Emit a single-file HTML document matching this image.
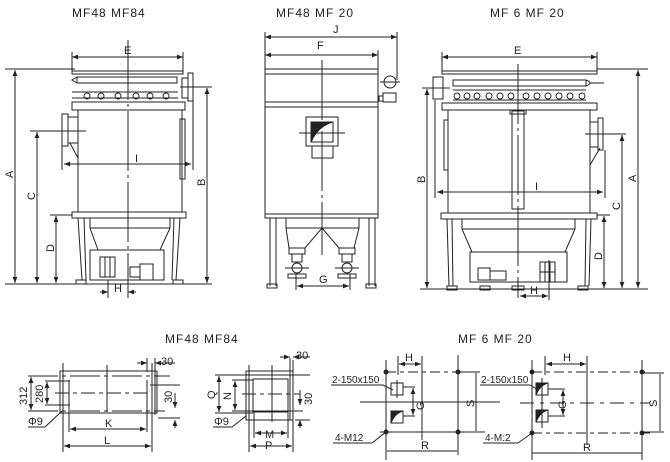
<!DOCTYPE html>
<html><head><meta charset="utf-8"><style>body{margin:0;background:#fff}svg{display:block}text{font-family:"Liberation Sans",sans-serif;fill:#222}</style></head><body>
<svg width="670" height="462" viewBox="0 0 670 462" xmlns="http://www.w3.org/2000/svg">
<defs><marker id="a" viewBox="0 0 10 10" refX="10" refY="5" markerWidth="6" markerHeight="6" orient="auto-start-reverse"><path d="M0,1 L10,5 L0,9z" fill="#222"/></marker></defs>
<g stroke="#222" stroke-width="1" fill="none">
<!-- titles -->
</g>
<text x="72" y="17" font-size="12" letter-spacing="1">MF48  MF84</text>
<text x="276" y="17" font-size="12" letter-spacing="1">MF48  MF  20</text>
<text x="490" y="17" font-size="12" letter-spacing="1">MF 6 MF 20</text>
<text x="165" y="343" font-size="12" letter-spacing="1">MF48  MF84</text>
<text x="458" y="343" font-size="12" letter-spacing="1">MF 6 MF 20</text>

<!-- LEFT DRAWING -->
<g stroke="#222" stroke-width="1" fill="none">
<line x1="72" y1="57" x2="183" y2="57" marker-start="url(#a)" marker-end="url(#a)"/>
<line x1="72" y1="52" x2="72" y2="72"/><line x1="183" y1="52" x2="183" y2="72"/>
<rect x="72" y="71" width="111" height="3"/>
<line x1="5" y1="69" x2="75" y2="69"/>
<rect x="77" y="77" width="100" height="6"/>
<path d="M77,77 l-5,3 l5,3"/>
<line x1="72" y1="92" x2="178" y2="92"/>
<g><circle cx="87" cy="96" r="3"/><circle cx="101" cy="96" r="3"/><circle cx="118" cy="96" r="3"/><circle cx="136" cy="96" r="3"/><circle cx="150" cy="96" r="3"/><circle cx="166" cy="96" r="3"/></g>
<line x1="72" y1="98" x2="178" y2="98"/>
<rect x="182" y="78" width="6" height="20"/><rect x="188" y="73" width="5" height="28"/>
<line x1="180" y1="87" x2="212" y2="87"/>
<rect x="72" y="102" width="113" height="8"/>
<rect x="78" y="110" width="104" height="102"/>
<rect x="68" y="117" width="10" height="26"/><rect x="62" y="114" width="6" height="32"/>
<line x1="70" y1="143" x2="78" y2="158"/>
<line x1="30" y1="131" x2="86" y2="131"/>
<rect x="180" y="119" width="5" height="60"/>
<line x1="62" y1="146" x2="62" y2="170"/><line x1="193" y1="101" x2="193" y2="170"/>
<line x1="64" y1="164" x2="191" y2="164" marker-start="url(#a)" marker-end="url(#a)"/>
<rect x="72" y="212" width="114" height="6"/>
<line x1="50" y1="215" x2="72" y2="215"/>
<line x1="78" y1="218" x2="82" y2="280"/><line x1="84" y1="218" x2="86" y2="280"/>
<line x1="180" y1="218" x2="176" y2="280"/><line x1="174" y1="218" x2="172" y2="280"/>
<line x1="90" y1="218" x2="90" y2="228"/><line x1="170" y1="218" x2="170" y2="228"/>
<line x1="90" y1="228" x2="170" y2="228"/>
<path d="M90,228 L98,250 L160,250 L170,228"/>
<rect x="90" y="250" width="74" height="30"/>
<rect x="100" y="257" width="15" height="20"/><line x1="105" y1="257" x2="105" y2="277"/><line x1="110" y1="257" x2="110" y2="277"/>
<rect x="130" y="267" width="10" height="10"/><rect x="140" y="264" width="13" height="16"/>
<rect x="76" y="280" width="10" height="4"/><rect x="173" y="280" width="10" height="4"/>
<line x1="5" y1="284" x2="212" y2="284"/>
<line x1="128" y1="40" x2="128" y2="298" stroke-dasharray="60,4,3,4"/>
<line x1="15" y1="70" x2="15" y2="283" marker-start="url(#a)" marker-end="url(#a)"/>
<line x1="37" y1="132" x2="37" y2="283" marker-start="url(#a)" marker-end="url(#a)"/>
<line x1="56" y1="216" x2="56" y2="283" marker-start="url(#a)" marker-end="url(#a)"/>
<line x1="207" y1="88" x2="207" y2="283" marker-start="url(#a)" marker-end="url(#a)"/>
<line x1="108" y1="280" x2="108" y2="298"/><line x1="128" y1="280" x2="128" y2="298"/>
<line x1="100" y1="292" x2="108" y2="292" marker-end="url(#a)"/><line x1="136" y1="292" x2="128" y2="292" marker-end="url(#a)"/>
</g>
<text x="124" y="54" font-size="11">E</text>
<text x="135" y="162" font-size="11">I</text>
<text x="114" y="292" font-size="11">H</text>
<text font-size="11" transform="translate(13,178) rotate(-90)">A</text>
<text font-size="11" transform="translate(35,200) rotate(-90)">C</text>
<text font-size="11" transform="translate(54,252) rotate(-90)">D</text>
<text font-size="11" transform="translate(205,186) rotate(-90)">B</text>

<!-- MIDDLE DRAWING -->
<g stroke="#222" stroke-width="1" fill="none">
<line x1="265" y1="37" x2="397" y2="37" marker-start="url(#a)" marker-end="url(#a)"/>
<line x1="265" y1="55" x2="378" y2="55" marker-start="url(#a)" marker-end="url(#a)"/>
<line x1="265" y1="32" x2="265" y2="70"/><line x1="397" y1="32" x2="397" y2="80"/><line x1="378" y1="50" x2="378" y2="70"/>
<rect x="265" y="69" width="113" height="149"/>
<line x1="265" y1="74" x2="378" y2="74"/>
<line x1="265" y1="102" x2="378" y2="102"/><line x1="265" y1="107" x2="378" y2="107"/>
<line x1="265" y1="214" x2="378" y2="214"/>
<circle cx="390" cy="82" r="6"/><line x1="380" y1="82" x2="400" y2="82"/>
<rect x="383" y="93" width="13" height="9"/><rect x="379" y="96" width="4" height="5"/>
<rect x="306" y="117" width="32" height="29"/><rect x="311" y="122" width="22" height="20"/>
<path d="M311,122 L333,122 Q318,126 311,142Z" fill="#222"/>
<line x1="299" y1="133" x2="345" y2="133"/>
<rect x="312" y="146" width="21" height="12"/>
<line x1="322" y1="60" x2="322" y2="255" stroke-dasharray="60,4,3,4"/>
<line x1="270" y1="218" x2="270" y2="286"/><line x1="276" y1="218" x2="276" y2="286"/>
<line x1="375" y1="218" x2="375" y2="286"/><line x1="369" y1="218" x2="369" y2="286"/>
<path d="M286,218 L286,228 L359,228 L359,218"/>
<path d="M286,228 L289,248 L305,248 L322,228 L339,248 L354,248 L359,228"/>
<rect x="289" y="248" width="16" height="6"/><rect x="339" y="248" width="16" height="6"/>
<rect x="292" y="254" width="10" height="8"/><rect x="342" y="254" width="10" height="8"/>
<circle cx="297" cy="268" r="5"/><circle cx="347" cy="268" r="5"/>
<line x1="285" y1="268" x2="309" y2="268"/><line x1="335" y1="268" x2="359" y2="268"/>
<rect x="288" y="274" width="18" height="4"/><rect x="338" y="274" width="18" height="4"/>
<rect x="267" y="284" width="10" height="4"/><rect x="366" y="284" width="10" height="4"/>
<line x1="296" y1="274" x2="296" y2="290"/><line x1="350" y1="274" x2="350" y2="290"/>
<line x1="297" y1="286" x2="349" y2="286" marker-start="url(#a)" marker-end="url(#a)"/>
</g>
<text x="317" y="49" font-size="11">F</text>
<text x="333" y="33" font-size="11">J</text>
<text x="319" y="283" font-size="11">G</text>

<!-- RIGHT DRAWING -->
<g stroke="#222" stroke-width="1" fill="none">
<line x1="442" y1="57" x2="597" y2="57" marker-start="url(#a)" marker-end="url(#a)"/>
<line x1="442" y1="52" x2="442" y2="72"/><line x1="597" y1="52" x2="597" y2="72"/>
<rect x="442" y="71" width="155" height="3"/>
<line x1="597" y1="69" x2="648" y2="69"/>
<rect x="453" y="80" width="133" height="6"/><path d="M586,80 q8,3 0,6"/><line x1="590" y1="83" x2="604" y2="83"/>
<rect x="433" y="77" width="10" height="22"/>
<line x1="422" y1="88" x2="450" y2="88"/>
<line x1="453" y1="90" x2="586" y2="90"/><line x1="453" y1="100" x2="586" y2="100"/>
<g><circle cx="457" cy="96" r="3"/><circle cx="467" cy="96" r="3"/><circle cx="477" cy="96" r="3"/><circle cx="489" cy="96" r="3"/><circle cx="500" cy="96" r="3"/><circle cx="511" cy="96" r="3"/><circle cx="526" cy="96" r="3"/><circle cx="537" cy="96" r="3"/><circle cx="548" cy="96" r="3"/><circle cx="559" cy="96" r="3"/><circle cx="570" cy="96" r="3"/><circle cx="582" cy="96" r="3"/></g>
<rect x="442" y="103" width="155" height="7"/>
<rect x="448" y="110" width="142" height="103"/>
<rect x="444" y="120" width="4" height="50"/>
<rect x="512" y="111" width="12" height="98"/><rect x="510" y="110" width="16" height="4"/>
<rect x="590" y="122" width="8" height="25"/><rect x="598" y="118" width="5" height="32"/>
<line x1="600" y1="148" x2="590" y2="165"/>
<line x1="585" y1="134" x2="626" y2="134"/>
<line x1="435" y1="100" x2="435" y2="198"/><line x1="605" y1="150" x2="605" y2="198"/>
<line x1="437" y1="192" x2="603" y2="192" marker-start="url(#a)" marker-end="url(#a)"/>
<rect x="441" y="213" width="156" height="6"/>
<line x1="597" y1="215" x2="610" y2="215"/>
<line x1="447" y1="219" x2="449" y2="286"/><line x1="452" y1="219" x2="453" y2="286"/>
<line x1="591" y1="219" x2="589" y2="286"/><line x1="586" y1="219" x2="585" y2="286"/>
<line x1="462" y1="219" x2="462" y2="229"/><line x1="575" y1="219" x2="575" y2="229"/>
<line x1="462" y1="229" x2="575" y2="229"/>
<path d="M462,229 L472,252 L565,252 L575,229"/>
<rect x="470" y="252" width="97" height="30"/>
<rect x="478" y="268" width="12" height="12"/><rect x="490" y="271" width="16" height="9"/>
<rect x="540" y="262" width="15" height="20"/><line x1="545" y1="262" x2="545" y2="282"/><line x1="550" y1="262" x2="550" y2="282"/><line x1="540" y1="272" x2="555" y2="272"/>
<rect x="447" y="286" width="10" height="4"/><rect x="480" y="286" width="10" height="4"/><rect x="512" y="286" width="12" height="4"/><rect x="578" y="286" width="10" height="4"/>
<line x1="420" y1="289" x2="648" y2="289"/>
<line x1="518" y1="64" x2="518" y2="298" stroke-dasharray="60,4,3,4"/>
<line x1="427" y1="89" x2="427" y2="288" marker-start="url(#a)" marker-end="url(#a)"/>
<line x1="638" y1="70" x2="638" y2="288" marker-start="url(#a)" marker-end="url(#a)"/>
<line x1="622" y1="135" x2="622" y2="288" marker-start="url(#a)" marker-end="url(#a)"/>
<line x1="604" y1="216" x2="604" y2="288" marker-start="url(#a)" marker-end="url(#a)"/>
<line x1="549" y1="260" x2="549" y2="300"/>
<line x1="520" y1="296" x2="548" y2="296" marker-start="url(#a)" marker-end="url(#a)"/>
</g>
<text x="514" y="54" font-size="11">E</text>
<text x="535" y="190" font-size="11">I</text>
<text x="530" y="294" font-size="11">H</text>
<text font-size="11" transform="translate(425,183) rotate(-90)">B</text>
<text font-size="11" transform="translate(636,182) rotate(-90)">A</text>
<text font-size="11" transform="translate(620,210) rotate(-90)">C</text>
<text font-size="11" transform="translate(602,260) rotate(-90)">D</text>

<!-- BOTTOM LEFT PLANS -->
<g stroke="#222" stroke-width="1" fill="none">
<rect x="60" y="371" width="97" height="42"/>
<line x1="63" y1="363" x2="63" y2="452"/><line x1="152" y1="363" x2="152" y2="452"/>
<line x1="155" y1="370" x2="155" y2="415"/>
<line x1="69" y1="380" x2="69" y2="432"/><line x1="147" y1="380" x2="147" y2="432"/>
<line x1="107" y1="365" x2="107" y2="412"/>
<line x1="28" y1="376" x2="170" y2="376" stroke-dasharray="30,4,4,4"/>
<line x1="45" y1="381" x2="70" y2="381"/><line x1="45" y1="405" x2="70" y2="405"/>
<line x1="55" y1="393" x2="150" y2="393" stroke-dasharray="14,4,4,4"/>
<line x1="28" y1="411" x2="165" y2="411" stroke-dasharray="30,4,4,4"/>
<line x1="31" y1="377" x2="31" y2="410" marker-start="url(#a)" marker-end="url(#a)"/>
<line x1="47" y1="382" x2="47" y2="404" marker-start="url(#a)" marker-end="url(#a)"/>
<line x1="70" y1="429" x2="146" y2="429" marker-start="url(#a)" marker-end="url(#a)"/>
<line x1="64" y1="446" x2="151" y2="446" marker-start="url(#a)" marker-end="url(#a)"/>
<line x1="137" y1="363" x2="147" y2="363" marker-end="url(#a)"/><line x1="175" y1="363" x2="155" y2="363" marker-end="url(#a)"/>
<line x1="147" y1="358" x2="147" y2="372"/><line x1="155" y1="358" x2="155" y2="372"/>
<line x1="150" y1="385" x2="180" y2="385"/><line x1="158" y1="418" x2="180" y2="418"/>
<line x1="175" y1="393" x2="175" y2="408" marker-end="url(#a)"/><line x1="175" y1="428" x2="175" y2="420" marker-end="url(#a)"/>
<line x1="28" y1="427" x2="45" y2="427"/><line x1="45" y1="427" x2="62" y2="411"/>

<rect x="246" y="371" width="47" height="49"/>
<rect x="253" y="379" width="35" height="33"/>
<line x1="249" y1="365" x2="249" y2="452"/><line x1="293" y1="360" x2="293" y2="452"/><line x1="290" y1="358" x2="290" y2="420"/>
<line x1="254" y1="412" x2="254" y2="438"/><line x1="288" y1="412" x2="288" y2="438"/>
<line x1="272" y1="365" x2="272" y2="422"/>
<line x1="215" y1="375" x2="310" y2="375"/><line x1="232" y1="380" x2="253" y2="380"/><line x1="232" y1="411" x2="303" y2="411"/>
<line x1="215" y1="413" x2="253" y2="413"/>
<line x1="242" y1="394" x2="300" y2="394" stroke-dasharray="14,4,4,4"/>
<line x1="219" y1="376" x2="219" y2="412" marker-start="url(#a)" marker-end="url(#a)"/>
<line x1="235" y1="381" x2="235" y2="410" marker-start="url(#a)" marker-end="url(#a)"/>
<line x1="255" y1="433" x2="287" y2="433" marker-start="url(#a)" marker-end="url(#a)"/>
<line x1="250" y1="446" x2="292" y2="446" marker-start="url(#a)" marker-end="url(#a)"/>
<line x1="280" y1="357" x2="290" y2="357" marker-end="url(#a)"/><line x1="310" y1="357" x2="293" y2="357" marker-end="url(#a)"/>
<line x1="300" y1="390" x2="300" y2="405" marker-end="url(#a)"/><line x1="300" y1="428" x2="300" y2="420" marker-end="url(#a)"/>
<line x1="295" y1="420" x2="310" y2="420"/>
<line x1="213" y1="427" x2="232" y2="427"/><line x1="232" y1="427" x2="246" y2="416"/>
</g>
<text x="161" y="365" font-size="11">30</text>
<text x="296" y="359" font-size="11">30</text>
<text x="105" y="427" font-size="11">K</text>
<text x="104" y="444" font-size="11">L</text>
<text x="265" y="438" font-size="11">M</text>
<text x="265" y="449" font-size="11">P</text>
<text x="28" y="425" font-size="11">Φ9</text>
<text x="214" y="425" font-size="11">Φ9</text>
<text font-size="11" transform="translate(27,405) rotate(-90)">312</text>
<text font-size="11" transform="translate(43,403) rotate(-90)">280</text>
<text font-size="11" transform="translate(172,403) rotate(-90)">30</text>
<text font-size="11" transform="translate(215,399) rotate(-90)">Q</text>
<text font-size="11" transform="translate(231,400) rotate(-90)">N</text>
<text font-size="11" transform="translate(312,405) rotate(-90)">30</text>

<!-- BOTTOM RIGHT PLANS -->
<g stroke="#222" stroke-width="1" fill="none">
<line x1="386" y1="360" x2="386" y2="460"/><line x1="458" y1="355" x2="458" y2="455"/>
<line x1="398" y1="356" x2="398" y2="375"/><line x1="422" y1="356" x2="422" y2="440"/>
<line x1="399" y1="364" x2="421" y2="364" marker-start="url(#a)" marker-end="url(#a)"/>
<line x1="386" y1="372" x2="470" y2="372" stroke-dasharray="10,4,4,4"/>
<line x1="380" y1="432" x2="485" y2="432"/>
<line x1="360" y1="402" x2="500" y2="402"/>
<rect x="391" y="383" width="12" height="12"/><line x1="397" y1="380" x2="397" y2="398"/>
<rect x="391" y="411" width="12" height="12"/><path d="M391,411 h12 q-8,2 -12,12z" fill="#222"/>
<line x1="403" y1="387" x2="415" y2="387"/><line x1="403" y1="416" x2="415" y2="416"/>
<line x1="413" y1="388" x2="413" y2="415" marker-start="url(#a)" marker-end="url(#a)"/>
<line x1="460" y1="372" x2="480" y2="372"/>
<line x1="476" y1="373" x2="476" y2="431"/>
<line x1="387" y1="451" x2="457" y2="451"/>
<line x1="331" y1="385" x2="383" y2="385"/><line x1="383" y1="385" x2="393" y2="390"/>
<line x1="333" y1="443" x2="372" y2="443"/><line x1="372" y1="443" x2="386" y2="432"/>

<line x1="532" y1="360" x2="532" y2="460"/><line x1="642" y1="360" x2="642" y2="460"/>
<line x1="545" y1="356" x2="545" y2="375"/><line x1="587" y1="356" x2="587" y2="445"/>
<line x1="546" y1="364" x2="586" y2="364" marker-start="url(#a)" marker-end="url(#a)"/>
<line x1="532" y1="372" x2="645" y2="372" stroke-dasharray="10,4,4,4"/>
<line x1="532" y1="433" x2="650" y2="433" stroke-dasharray="10,4,4,4"/>
<line x1="520" y1="403" x2="650" y2="403" stroke-dasharray="14,6,4,6"/>
<rect x="536" y="383" width="12" height="12"/><path d="M536,383 h12 q-8,2 -12,12z" fill="#222"/>
<rect x="536" y="410" width="12" height="12"/><path d="M536,410 h12 q-8,2 -12,12z" fill="#222"/>
<line x1="542" y1="378" x2="542" y2="428"/>
<line x1="548" y1="389" x2="565" y2="389"/><line x1="548" y1="416" x2="565" y2="416"/>
<line x1="563" y1="390" x2="563" y2="415" marker-start="url(#a)" marker-end="url(#a)"/>
<line x1="644" y1="373" x2="664" y2="373"/><line x1="644" y1="432" x2="664" y2="432"/>
<line x1="660" y1="374" x2="660" y2="431"/>
<line x1="532" y1="453" x2="642" y2="453"/>
<line x1="480" y1="385" x2="530" y2="385"/><line x1="530" y1="385" x2="538" y2="390"/>
<line x1="483" y1="443" x2="518" y2="443"/><line x1="518" y1="443" x2="532" y2="433"/>
</g>
<g fill="#222"><circle cx="386" cy="372" r="2.5"/><circle cx="458" cy="372" r="2.5"/><circle cx="386" cy="432" r="2.5"/><circle cx="458" cy="432" r="2.5"/>
<circle cx="532" cy="372" r="2.5"/><circle cx="642" cy="372" r="2.5"/><circle cx="532" cy="433" r="2.5"/><circle cx="642" cy="433" r="2.5"/></g>
<text x="405" y="361" font-size="11">H</text>
<text x="563" y="361" font-size="11">H</text>
<text x="421" y="449" font-size="11">R</text>
<text x="583" y="451" font-size="11">R</text>
<text x="332" y="383" font-size="10">2-150x150</text>
<text x="481" y="383" font-size="10">2-150x150</text>
<text x="335" y="441" font-size="10">4-M12</text>
<text x="485" y="441" font-size="10">4-M:2</text>
<text font-size="11" transform="translate(424,410) rotate(-90)">G</text>
<text font-size="11" transform="translate(566,409) rotate(-90)">G</text>
<text font-size="11" transform="translate(474,407) rotate(-90)">S</text>
<text font-size="11" transform="translate(657,407) rotate(-90)">S</text>
</svg>
</body></html>
